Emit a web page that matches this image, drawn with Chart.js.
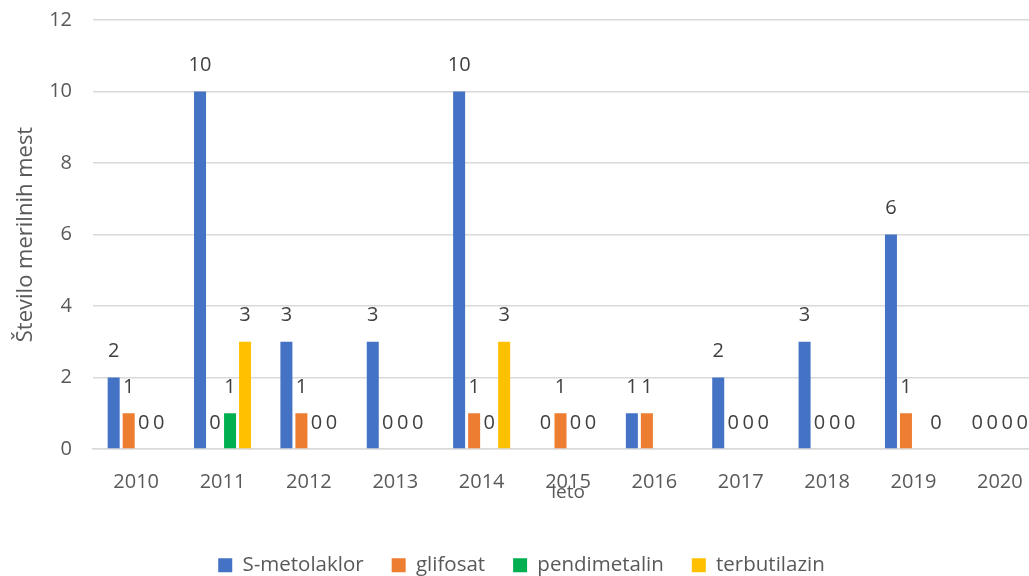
<!DOCTYPE html>
<html>
<head>
    <title>Število merilnih mest</title>
    <script src="https://cdn.jsdelivr.net/npm/chart.js"></script>
    <style>
        body {
            margin: 0;
            padding: 0;
            overflow: hidden;
            background: #fff;
        }

        #chartBox {
            width: 1052px; /* plot runs past the right edge, like the reference */
            height: 576px;
        }
    </style>
</head>
<body>

<div id="chartBox">
    <canvas id="barChart"></canvas>
</div>

<script>
    // podatki
    var leta = ['2010', '2011', '2012', '2013', '2014', '2015', '2016', '2017', '2018', '2019', '2020'];
    var sMetolaklor = [2, 10, 3, 3, 10, 0, 1, 2, 3, 6, 0];
    var glifosat = [1, 0, 1, 0, 1, 1, 1, 0, 0, 1, 0];
    var pendimetalin = [0, 1, 0, 0, 0, 0, null, 0, 0, null, 0];
    var terbutilazin = [0, 3, 0, 0, 3, 0, null, 0, 0, 0, 0];
    var yTicks = [0, 2, 4, 6, 8, 10, 12];

    var textColor = '#595959';
    var fontFam = '"Open Sans", "Noto Sans", sans-serif';
    Chart.defaults.font.family = fontFam;
    Chart.defaults.color = textColor;

    // vrednosti nad stolpci
    var valueLabels = {
        id: 'valueLabels',
        afterDatasetsDraw: function (chart) {
            var ctx = chart.ctx;
            ctx.save();
            ctx.font = '20px ' + fontFam;
            ctx.fillStyle = '#404040';
            ctx.textAlign = 'center';
            ctx.textBaseline = 'middle';
            chart.data.datasets.forEach(function (ds, i) {
                var meta = chart.getDatasetMeta(i);
                meta.data.forEach(function (bar, j) {
                    var v = ds.data[j];
                    if (v === null || v === undefined) return;
                    ctx.fillText(String(v), bar.x, bar.y - 26);
                });
            });
            ctx.restore();
        }
    };

    var ctx = document.getElementById('barChart').getContext('2d');
    var chart = new Chart(ctx, {
        type: 'bar',
        data: {
            labels: leta,
            datasets: [
                { label: 'S-metolaklor', data: sMetolaklor, backgroundColor: '#4472C4' },
                { label: 'glifosat', data: glifosat, backgroundColor: '#ED7D31' },
                { label: 'pendimetalin', data: pendimetalin, backgroundColor: '#00B050' },
                { label: 'terbutilazin', data: terbutilazin, backgroundColor: '#FFC000' }
            ]
        },
        options: {
            responsive: true,
            maintainAspectRatio: false,
            animation: false,
            datasets: {
                bar: { categoryPercentage: 0.695, barPercentage: 0.8 }
            },
            layout: {
                padding: { top: 20, right: 9, left: 0, bottom: -9.5 }
            },
            plugins: {
                legend: {
                    position: 'bottom',
                    labels: {
                        boxWidth: 14,
                        boxHeight: 14,
                        padding: 28,
                        font: { size: 20.5 },
                        color: textColor
                    }
                },
                tooltip: { enabled: false }
            },
            scales: {
                x: {
                    afterFit: function (axis) { axis.height = 78; },
                    grid: { display: false },
                    border: { color: '#D9D9D9', width: 1.5 },
                    ticks: { font: { size: 20 }, color: textColor, padding: 13 },
                    title: {
                        display: true,
                        text: 'leto',
                        font: { size: 19 },
                        color: textColor,
                        padding: { top: 0, bottom: 23.5 }
                    }
                },
                y: {
                    min: 0,
                    max: 12,
                    afterFit: function (axis) {
                        axis.width = 93;
                        axis.paddingTop = 0;
                        axis.paddingBottom = 0;
                    },
                    afterBuildTicks: function (axis) {
                        axis.ticks = yTicks.map(function (v) { return { value: v }; });
                    },
                    grid: { color: '#D9D9D9', lineWidth: 1.5, drawTicks: false },
                    border: { display: false },
                    ticks: { font: { size: 20 }, color: textColor, padding: 21 },
                    title: {
                        display: true,
                        text: 'Število merilnih mest',
                        font: { size: 22 },
                        color: textColor,
                        padding: { top: 13, bottom: 0 }
                    }
                }
            }
        },
        plugins: [valueLabels]
    });
</script>

</body>
</html>
